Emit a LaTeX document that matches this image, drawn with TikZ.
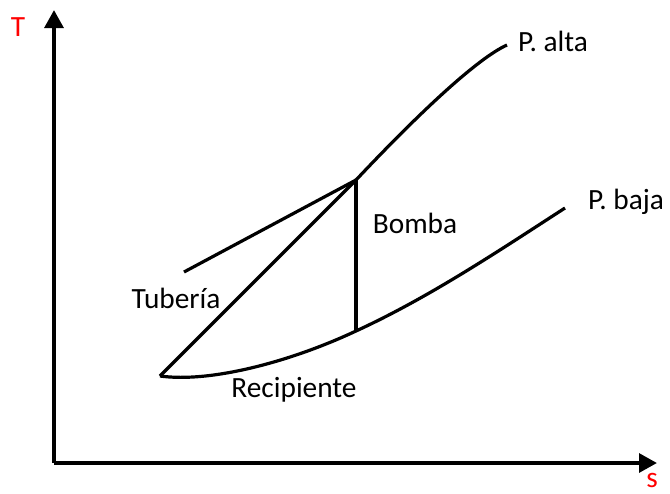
\documentclass[tikz,border=0pt]{standalone}
\usepackage{fontspec}
\setmainfont{Carlito}
\usetikzlibrary{arrows.meta}
\begin{document}
\begin{tikzpicture}[x=0.75pt,y=-0.75pt,
  axis/.style={line width=3pt,-{Triangle[length=13.5pt,width=14pt]}},
  curve/.style={line width=2.4pt},
  lbl/.style={font=\fontsize{22}{26}\selectfont,inner sep=0pt},
  axlbl/.style={font=\fontsize{22}{26}\selectfont,text=red,inner sep=0pt}]
\useasboundingbox (0,0) rectangle (670,493);
\coordinate (O) at (54,463);
\coordinate (Ytop) at (54,10);
\coordinate (Xend) at (657,463);
\coordinate (A) at (160,376);
\coordinate (J) at (356,180);
\coordinate (B) at (356,331);
\coordinate (Tb) at (184,272);
\coordinate (PA) at (507,45);
\coordinate (PB) at (565,208);
\draw[axis] (O) -- (Ytop);
\draw[axis] (O) -- (Xend);
\node[axlbl] (T) at (18,27) {T};
\node[axlbl] (s) at (652,480) {s};
\draw[curve] (J) .. controls (420,112) and (478,58) .. (PA);
\draw[curve] (A) .. controls (210,383) and (290,362) .. (B) .. controls (430,297) and (500,250) .. (PB);
\draw[curve] (Tb) -- (J);
\draw[curve] (A) -- (J);
\draw[curve] (J) -- (B);
\node[lbl] (alta) at (553,41) {P. alta};
\node[lbl] (baja) at (626,202) {P. baja};
\node[lbl] (bomba) at (415,223) {Bomba};
\node[lbl] (tub) at (176,298) {Tubería};
\node[lbl] (rec) at (294,390) {Recipiente};
\end{tikzpicture}
\end{document}
